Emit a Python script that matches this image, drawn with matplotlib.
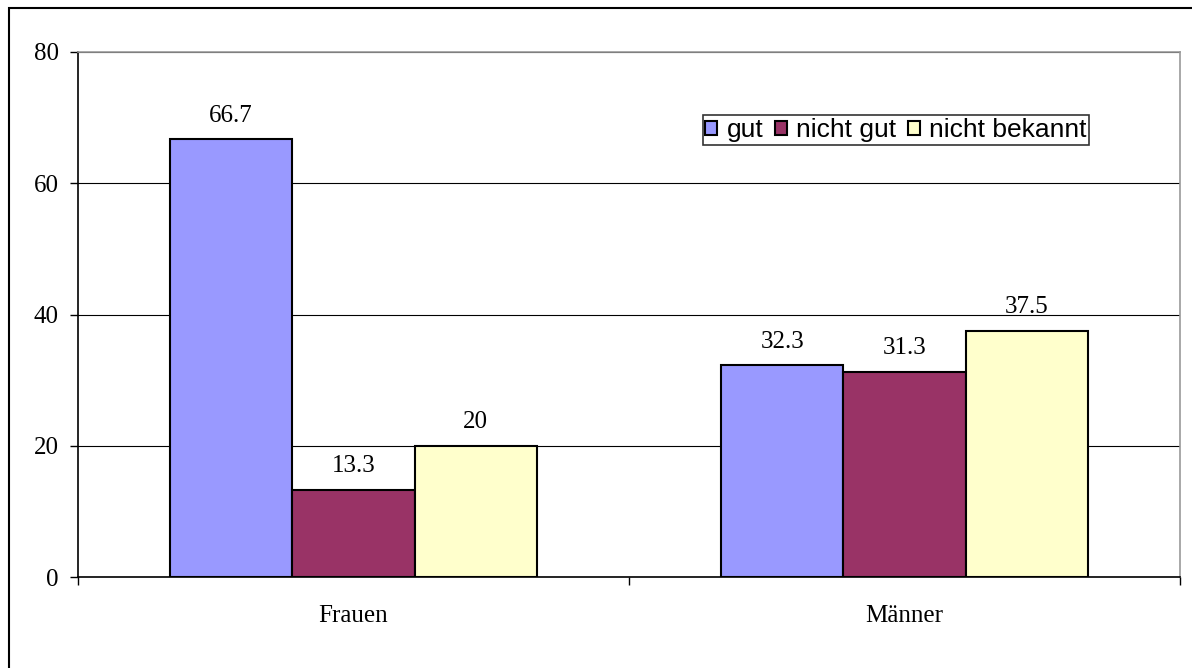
import matplotlib.pyplot as plt
from matplotlib.patches import Rectangle
import numpy as np

categories = ["Frauen", "Männer"]
series_names = ["gut", "nicht gut", "nicht bekannt"]
gut = [66.7, 32.3]
nicht_gut = [13.3, 31.3]
nicht_bekannt = [20, 37.5]
colors = ["#9999FF", "#993366", "#FFFFCC"]

serif = ["Liberation Serif", "DejaVu Serif"]
sans = ["Liberation Sans", "DejaVu Sans"]

fig = plt.figure(figsize=(11.92, 6.68), dpi=100)
ax = fig.add_axes([78 / 1192, 1 - 577 / 668, (1180 - 78) / 1192, (577 - 52) / 668])

# outer frame (only left and top show in the original)
fig.patches.append(Rectangle((9 / 1192, -0.1), 1.2, 1 - 8 / 668 + 0.1, transform=fig.transFigure,
                             fill=False, edgecolor="black", linewidth=1.5))

x = np.arange(len(categories))
width = 0.222
values = [gut, nicht_gut, nicht_bekannt]
for i, (name, vals, c) in enumerate(zip(series_names, values, colors)):
    bars = ax.bar(x + (i - 1) * width, vals, width, color=c, edgecolor="black",
                  linewidth=1.5, label=name, zorder=3)
    for b, v in zip(bars, vals):
        ax.annotate(f"{v:g}", (b.get_x() + b.get_width() / 2, v), xytext=(0, 9),
                    textcoords="offset points", ha="center", va="bottom",
                    fontsize=18, family=serif)

ax.set_xlim(-0.5, 1.5)
ax.set_ylim(0, 80)
ax.set_yticks([0, 20, 40, 60, 80])
ax.set_xticks(x)
ax.set_xticklabels(categories)
ax.set_xticks([-0.5, 0.5, 1.5], minor=True)
ax.tick_params(axis="x", which="major", length=0, pad=20, labelsize=18)
ax.tick_params(axis="x", which="minor", length=6, width=1, direction="out")
ax.tick_params(axis="y", length=6, width=1, pad=8, labelsize=18)
for lab in ax.get_xticklabels() + ax.get_yticklabels():
    lab.set_family(serif)

ax.yaxis.grid(True, color="black", linewidth=0.8, zorder=0)
ax.set_axisbelow(True)
ax.spines["left"].set_linewidth(1.2)
ax.spines["bottom"].set_linewidth(1.2)
ax.spines["top"].set_color("#999999")
ax.spines["right"].set_color("#999999")
ax.spines["top"].set_linewidth(1.2)
ax.spines["right"].set_linewidth(1.2)

leg = ax.legend(ncol=3, loc="center", bbox_to_anchor=(896 / 1192, 1 - 130 / 668),
                bbox_transform=fig.transFigure, frameon=True, fancybox=False,
                handlelength=0.45, handleheight=0.45, handletextpad=0.35, columnspacing=0.45,
                borderpad=0.1, borderaxespad=0, prop={"family": sans, "size": 19})
leg.get_frame().set_edgecolor("black")
leg.get_frame().set_linewidth(1.2)

fig.savefig("out.png", dpi=100)
